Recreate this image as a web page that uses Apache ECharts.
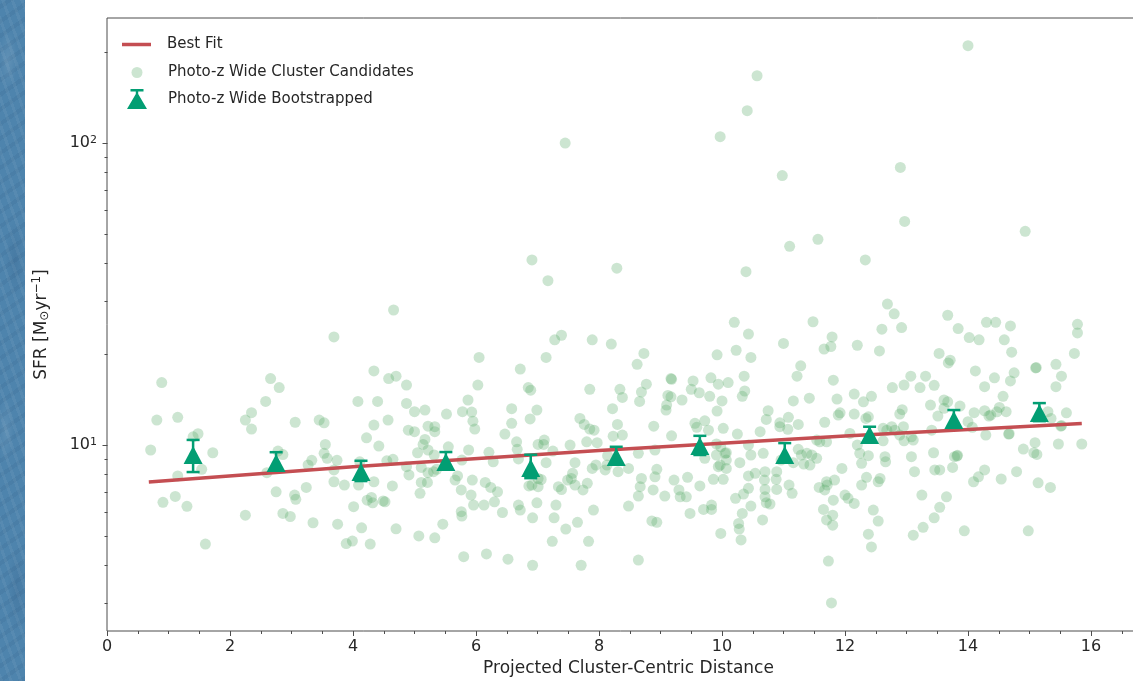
<!DOCTYPE html>
<html>
<head>
<meta charset="utf-8">
<script src="https://cdn.jsdelivr.net/npm/echarts@6/dist/echarts.min.js"></script>
<style>
  html, body { margin: 0; padding: 0; width: 1133px; height: 681px; overflow: hidden; }
  body {
    background-color: #4e84ad;
    background-image:
      radial-gradient(ellipse 9px 30px at 8px 60px, rgba(255,255,255,0.10), rgba(255,255,255,0) 100%),
      radial-gradient(ellipse 10px 40px at 15px 260px, rgba(20,50,90,0.12), rgba(0,0,0,0) 100%),
      radial-gradient(ellipse 8px 35px at 6px 430px, rgba(255,255,255,0.09), rgba(255,255,255,0) 100%),
      radial-gradient(ellipse 10px 45px at 17px 590px, rgba(20,50,90,0.12), rgba(0,0,0,0) 100%),
      repeating-linear-gradient(70deg, rgba(255,255,255,0.05) 0 3px, rgba(0,0,0,0) 3px 9px),
      repeating-linear-gradient(-35deg, rgba(20,50,90,0.07) 0 4px, rgba(0,0,0,0) 4px 12px);
  }
  #chart { position: absolute; left: 25px; top: 0; width: 1108px; height: 681px; background: #ffffff; }
</style>
</head>
<body>
<div id="chart"></div>
<script>
// SFR of photo-z wide cluster candidates vs projected cluster-centric distance
const candidates = [
  [4.66,28.0],[3.69,22.8],[0.89,16.1],[2.66,16.6],[2.80,15.5],[2.58,13.95],[2.35,12.8],[2.25,12.1],[2.35,11.3],
  [0.81,12.1],[1.15,12.35],[0.71,9.63],[1.40,10.65],[1.48,10.9],[1.72,9.43],[3.06,11.9],[3.45,12.1],[3.53,11.85],
  [3.55,10.05],[3.53,9.39],[3.58,9.04],[3.74,8.9],[3.33,8.9],[2.78,9.55],[2.86,9.3],[4.08,13.95],[4.40,13.95],
  [4.34,17.6],[4.58,16.6],[4.70,16.9],[4.57,12.1],[4.34,11.65],[4.22,10.57],[4.42,9.92],[4.11,8.8],[4.65,8.97],
  [4.55,8.87],
  [1.54,8.31],[1.15,7.9],[0.91,6.46],[1.11,6.76],[1.30,6.27],[1.60,4.70],[2.25,5.86],[2.60,8.1],[2.75,7.0],
  [2.86,5.94],[2.98,5.8],[3.05,6.83],[3.07,6.61],[3.24,7.24],[3.35,5.53],[3.27,8.59],[3.69,8.27],[3.69,7.56],
  [3.86,7.37],[3.75,5.47],[4.01,6.25],[4.09,7.37],[4.23,6.57],[4.30,6.71],[4.32,6.44],[4.49,6.53],[4.34,7.56],
  [4.14,5.32],[3.89,4.72],[3.99,4.81],[4.28,4.70],[4.64,7.32],[4.70,5.28],
  [4.87,15.8],[6.05,19.5],[6.03,15.8],[5.87,14.1],[5.78,12.9],[5.93,12.86],[5.95,12.0],[5.98,11.3],[5.52,12.66],
  [5.17,13.06],[5.0,12.9],[4.87,13.74],[4.90,11.2],[5.0,11.07],[5.22,11.55],[5.33,11.5],[5.33,11.07],[5.17,10.44],
  [5.14,10.05],[5.05,9.43],[5.22,9.63],[5.32,9.27],[5.55,9.87],[5.88,9.63],[6.21,9.46],[6.47,10.87],[6.58,11.8],
  [6.58,13.2],[6.72,17.85],[6.85,15.5],[6.89,15.2],[6.99,13.06],[6.88,12.2],[6.66,10.25],[6.67,9.68],[7.01,10.05],
  [7.11,10.39],[7.10,10.05],[7.25,9.55],[7.14,19.5],[7.28,22.3],[7.39,23.1],[7.53,10.0],[7.69,12.25],[7.76,11.7],
  [7.85,11.3],[7.92,11.2],[7.80,10.25],[7.97,10.18],[7.89,22.3],[8.20,21.6],[7.85,15.3],[8.22,13.2],[8.30,11.7],
  [8.23,10.7],[8.38,10.79],[8.34,15.3],[8.38,14.38],[8.62,18.5],[8.73,20.1],[8.77,15.9],[8.69,14.98],[8.66,13.95],
  [8.89,11.55],[9.17,16.6],[9.12,14.6],[9.17,14.45],[9.10,13.57],[9.09,13.06],[9.18,10.73],[8.91,9.63],[8.64,9.39],
  [8.14,9.22],
  [4.87,8.48],[4.91,7.96],[4.52,6.49],[5.09,6.92],[5.11,7.52],[5.21,7.52],[5.11,8.43],[5.22,8.1],[5.31,8.16],
  [5.36,8.31],[5.66,7.66],[5.70,7.9],[5.76,7.1],[5.76,6.02],[5.77,5.82],[5.46,5.47],[5.07,5.0],[5.33,4.93],
  [5.80,4.27],[6.17,4.36],[6.52,4.19],[6.92,4.0],[7.24,4.8],[7.46,5.27],[7.65,5.55],[7.83,4.8],[7.71,4.0],
  [7.27,5.74],[6.92,5.74],[6.43,5.98],[5.94,7.66],[5.92,6.83],[5.96,6.33],[6.13,6.33],[6.15,7.52],[6.24,7.24],
  [6.35,7.0],[6.30,6.49],[6.28,8.8],[6.69,6.33],[6.72,6.09],[6.99,6.44],[6.91,7.37],[7.01,7.28],[6.86,7.32],
  [7.01,7.75],[7.06,7.69],[7.14,8.74],[7.30,6.33],[7.34,7.28],[7.39,7.12],[7.49,7.66],[7.55,7.75],[7.57,8.06],
  [7.61,8.74],[7.61,7.37],[7.74,7.1],[7.81,7.47],[7.91,6.09],[7.89,8.37],[7.95,8.59],[8.10,8.27],[8.13,8.59],
  [8.31,8.16],[8.48,8.37],[8.94,8.31],[8.91,7.85],[8.69,7.75],[8.67,7.28],[8.88,7.1],[8.64,6.78],[9.07,6.78],
  [8.48,6.28],[8.86,5.61],[8.94,5.55],[8.64,4.16],[9.22,7.66],[5.77,8.92],[6.69,9.0],
  [12.69,29.3],[12.80,27.2],[12.60,24.2],[12.92,24.5],[12.56,20.5],[13.67,26.9],[10.20,25.5],[10.43,23.3],
  [10.23,20.6],[9.92,19.9],[10.47,19.5],[11.0,21.7],[11.48,25.6],[11.79,22.8],[11.66,20.8],[11.77,21.2],
  [12.20,21.4],[13.53,20.1],[13.71,19.1],[13.68,18.7],[9.18,16.5],[9.53,16.3],[9.50,15.3],[9.63,14.9],
  [9.82,16.7],[9.94,15.9],[10.10,16.1],[10.36,16.9],[10.37,15.1],[10.33,14.5],[9.80,14.5],[10.0,14.0],
  [9.92,12.96],[9.35,14.1],[11.28,18.3],[11.22,16.9],[11.81,16.4],[11.16,14.0],[11.42,14.3],[11.87,14.2],
  [12.15,14.75],[12.30,13.9],[12.43,14.5],[12.77,15.5],[12.96,15.8],[13.07,16.9],[13.31,16.9],[13.22,15.5],
  [13.45,15.77],[13.61,14.1],[13.67,13.9],[13.39,13.57],[12.93,13.1],[12.89,12.66],[13.51,12.47],[13.61,13.24],
  [12.34,12.25],[12.38,12.4],[12.15,12.66],[11.92,12.79],[11.89,12.57],[11.67,11.9],[12.08,10.93],[10.75,12.99],
  [10.72,12.16],[11.08,12.35],[10.94,11.85],[11.07,11.28],[11.24,11.7],[10.94,11.5],[10.62,11.07],[10.25,10.87],
  [10.02,11.36],[9.78,11.2],[9.72,12.03],[9.56,11.8],[9.59,11.45],[9.91,10.08],[10.07,9.43],[9.98,9.87],
  [10.43,10.0],[10.47,9.27],[10.67,9.39],[11.54,10.39],[11.59,10.25],[11.70,10.25],[11.24,9.68],[11.38,9.39],
  [11.46,9.27],[12.2,10.0],[12.24,9.39],[12.38,9.22],[12.62,11.36],[12.68,11.2],[12.76,11.5],[12.81,11.2],
  [12.95,11.5],[12.89,10.79],[13.08,10.65],[12.96,10.33],[12.62,10.33],[12.65,9.15],[13.11,10.39],[13.08,9.15],
  [13.41,11.2],[13.44,9.43],[13.78,9.15],
  [9.72,9.04],[9.91,9.27],[10.05,9.39],[10.07,8.92],[9.94,8.48],[9.97,8.59],[10.07,8.37],[10.29,8.74],
  [9.44,7.82],[9.64,7.32],[9.30,7.1],[9.32,6.74],[9.42,6.74],[9.48,5.94],[9.70,6.12],[9.83,6.33],[9.83,6.12],
  [9.86,7.7],[10.02,7.7],[9.98,5.1],[10.22,6.66],[10.35,6.88],[10.43,7.19],[10.43,7.9],[10.54,8.06],[10.47,6.28],
  [10.33,5.94],[10.27,5.5],[10.28,5.27],[10.31,4.85],[10.66,5.65],[10.70,8.16],[10.69,7.66],[10.70,7.13],
  [10.70,6.74],[10.72,6.44],[10.78,6.38],[10.89,8.16],[10.88,7.7],[10.89,7.13],[11.09,7.37],[11.14,6.92],
  [10.96,8.92],[11.16,8.74],[11.29,9.27],[11.33,8.65],[11.43,8.59],[11.54,9.04],[11.95,8.37],[11.83,7.66],
  [11.70,7.56],[11.58,7.24],[11.67,7.1],[11.71,7.37],[11.81,6.57],[11.65,6.12],[11.80,5.86],[11.70,5.65],
  [11.80,5.43],[11.73,4.13],[11.78,3.0],[12.0,6.83],[12.05,6.66],[12.15,6.41],[12.27,8.7],[12.27,7.37],
  [12.35,7.82],[12.54,7.56],[12.57,7.75],[12.46,6.09],[12.54,5.6],[12.38,5.07],[12.43,4.6],[12.66,8.8],
  [13.13,8.16],[13.25,6.83],[13.46,8.27],[13.54,8.27],[13.65,6.74],[13.54,6.22],[13.45,5.74],[13.27,5.34],
  [13.11,5.03],[13.75,8.43],
  [13.84,24.3],[14.02,22.7],[14.18,22.3],[14.30,25.5],[14.45,25.5],[14.69,24.8],[14.59,22.3],[14.71,20.3],
  [14.12,17.6],[14.43,16.7],[14.27,15.6],[14.75,17.35],[14.69,16.3],[14.57,14.5],[15.10,18.0],[15.11,18.05],
  [15.43,18.5],[15.52,16.9],[15.43,15.6],[15.78,25.1],[15.78,23.5],[15.73,20.1],[13.87,13.46],[14.10,12.8],
  [14.27,12.99],[14.34,12.47],[14.37,12.57],[14.51,13.32],[14.62,12.9],[14.47,12.88],[14.0,11.95],[14.07,11.45],
  [14.29,10.79],[14.66,10.87],[14.67,10.9],[15.3,12.9],[15.35,12.25],[15.6,12.79],[15.51,11.55],[15.52,11.6],
  [14.9,9.7],[15.09,10.18],[15.07,9.43],[15.12,9.31],[15.47,10.08],[15.85,10.08],[13.82,9.2],[13.83,9.25],
  [14.09,7.56],[14.17,7.85],[14.27,8.27],[14.54,7.72],[14.79,8.16],[15.14,7.5],[15.34,7.24],[13.94,5.2],[14.98,5.2],
  [7.45,100],[9.97,105],[10.41,128],[10.57,167],[14.0,210],[10.98,78],[12.9,83],[12.97,55],[11.1,45.5],
  [11.56,48],[12.33,41],[14.93,51],[6.91,41],[8.29,38.5],[10.39,37.5],[7.17,35]
];

// Bootstrapped bins: centre, median SFR and error range
const binX   = [1.40, 2.75, 4.13, 5.51, 6.89, 8.28, 9.64, 11.02, 12.40, 13.77, 15.16];
const binSFR = [9.27, 8.72, 8.14, 8.78, 8.39, 9.13, 9.92, 9.27, 10.79, 12.10, 12.76];
const binLo  = [8.14, 8.26, 7.60, 8.39, 7.77, 8.70, 9.27, 8.78, 10.20, 11.40, 12.00];
const binHi  = [10.40, 9.47, 8.87, 9.48, 9.29, 9.87, 10.73, 10.15, 11.50, 13.06, 13.77];

// Best-fit relation
const fitX   = [0.68, 4.0, 8.0, 12.0, 15.85];
const fitSFR = [7.54, 8.47, 9.59, 10.71, 11.79];

// Log-axis tick values
const yMajorTicks = [10, 100];
const yMinorTicks = [3, 4, 5, 6, 7, 8, 9, 20, 30, 40, 50, 60, 70, 80, 90, 200];

const FONT = 'DejaVu Sans';
const TXT = '#262626';
const AX = '#4d4d4d';
const GREEN = '#029e73';
const RED = '#c44e52';
const LIGHT = '#55a868';

function tickRenderer(len) {
  return function (params, api) {
    const p = api.coord([api.value(0), api.value(1)]);
    const x = Math.round(p[0]) + 0.5;
    const y = Math.round(p[1]) + 0.5;
    return { type: 'line', shape: { x1: x - len, y1: y, x2: x, y2: y }, style: { stroke: AX, lineWidth: 1 } };
  };
}

function errorBarRenderer(params, api) {
  const x = api.value(0);
  const lo = api.coord([x, api.value(1)]);
  const hi = api.coord([x, api.value(2)]);
  const cx = lo[0];
  const hw = 6.5;
  const st = { stroke: GREEN, lineWidth: 2.5 };
  return {
    type: 'group',
    children: [
      { type: 'line', shape: { x1: cx, y1: lo[1], x2: cx, y2: hi[1] }, style: st },
      { type: 'line', shape: { x1: cx - hw, y1: lo[1], x2: cx + hw, y2: lo[1] }, style: st },
      { type: 'line', shape: { x1: cx - hw, y1: hi[1], x2: cx + hw, y2: hi[1] }, style: st }
    ]
  };
}

const legendText = { fontFamily: FONT, fontSize: 15, color: TXT, padding: [0, 0, 0, 11] };
const bootIcon = 'path://M3.5,0 H16.5 V2.6 H11.2 V5 L20,20 H0 L8.8,5 V2.6 H3.5 Z';

const chart = echarts.init(document.getElementById('chart'), null, { renderer: 'canvas' });

chart.setOption({
  animation: false,
  textStyle: { fontFamily: FONT },
  grid: {
    left: 82, right: -81, top: 18, bottom: 50,
    outerBoundsMode: 'none', containLabel: false,
    show: true, borderColor: AX, borderWidth: 1, backgroundColor: 'transparent'
  },
  legend: [
    {
      left: 97, top: 37, padding: 0, selectedMode: false,
      itemWidth: 29, itemHeight: 3.5,
      textStyle: legendText,
      data: [{ name: 'Best Fit', icon: 'rect', itemStyle: { color: RED } }]
    },
    {
      // the circle sits 9.5px inside its 30px slot, so the box is shifted by that much
      left: 106.5, top: 65, padding: 0, selectedMode: false,
      itemWidth: 30, itemHeight: 11,
      textStyle: legendText,
      data: [{ name: 'Photo-z Wide Cluster Candidates', icon: 'circle', itemStyle: { color: LIGHT, opacity: 0.3 } }]
    },
    {
      left: 102, top: 89, padding: 0, selectedMode: false,
      itemWidth: 30, itemHeight: 20,
      textStyle: legendText,
      data: [{ name: 'Photo-z Wide Bootstrapped', icon: bootIcon, itemStyle: { color: GREEN } }]
    }
  ],
  xAxis: {
    type: 'value', min: 0, max: 18, interval: 2,
    axisLine: { show: false },
    axisTick: { show: true, length: 5, lineStyle: { color: AX, width: 1 } },
    minorTick: { show: true, splitNumber: 4, length: 3, lineStyle: { color: AX, width: 1 } },
    splitLine: { show: false },
    minorSplitLine: { show: false },
    axisLabel: { fontFamily: FONT, fontSize: 16, color: TXT, margin: 8, showMaxLabel: false },
    name: 'Projected Cluster-Centric Distance',
    nameLocation: 'middle', nameGap: 28,
    nameTextStyle: { fontFamily: FONT, fontSize: 17, color: TXT, padding: [0, 64, 0, 0] }
  },
  yAxis: {
    type: 'log', logBase: 10, min: 2.423, max: 259.4,
    axisLine: { show: false },
    axisTick: { show: false },
    minorTick: { show: false },
    splitLine: { show: false },
    axisLabel: {
      fontFamily: FONT, fontSize: 16, color: TXT, margin: 10,
      showMinLabel: false, showMaxLabel: false,
      formatter: function (v) {
        return '10{sup|' + Math.round(Math.log10(v)) + '}';
      },
      rich: { sup: { fontFamily: FONT, fontSize: 11, color: TXT, verticalAlign: 'top', padding: [0, 0, 6, 0] } }
    },
    name: 'SFR [M{sub|⊙}yr{sup|−1}]',
    nameLocation: 'middle', nameGap: 55, nameRotate: 90,
    nameTextStyle: {
      fontFamily: FONT, fontSize: 17, color: TXT,
      rich: {
        sub: { fontFamily: FONT, fontSize: 12, color: TXT, padding: [6, 0, 0, 0] },
        sup: { fontFamily: FONT, fontSize: 12, color: TXT, padding: [0, 0, 9, 0] }
      }
    }
  },
  series: [
    {
      name: 'Photo-z Wide Cluster Candidates',
      type: 'scatter', z: 1,
      symbol: 'circle', symbolSize: 11,
      itemStyle: { color: LIGHT, opacity: 0.3 },
      data: candidates
    },
    {
      name: 'Best Fit',
      type: 'line', z: 2,
      symbol: 'none',
      lineStyle: { color: RED, width: 3.5 },
      itemStyle: { color: RED },
      data: fitX.map((x, i) => [x, fitSFR[i]])
    },
    {
      name: 'bootstrap-errors',
      type: 'custom', z: 3,
      renderItem: errorBarRenderer,
      encode: { x: 0, y: 1 },
      data: binX.map((x, i) => [x, binLo[i], binHi[i]])
    },
    {
      name: 'Photo-z Wide Bootstrapped',
      type: 'scatter', z: 4,
      symbol: 'triangle', symbolSize: [19, 18],
      itemStyle: { color: GREEN, opacity: 1 },
      data: binX.map((x, i) => [x, binSFR[i]])
    },
    {
      name: 'y-major-ticks',
      type: 'custom', z: 5, silent: true,
      renderItem: tickRenderer(5),
      encode: { x: 0, y: 1 },
      data: yMajorTicks.map(v => [0, v])
    },
    {
      name: 'y-minor-ticks',
      type: 'custom', z: 5, silent: true,
      renderItem: tickRenderer(3),
      encode: { x: 0, y: 1 },
      data: yMinorTicks.map(v => [0, v])
    }
  ]
});
</script>
</body>
</html>
